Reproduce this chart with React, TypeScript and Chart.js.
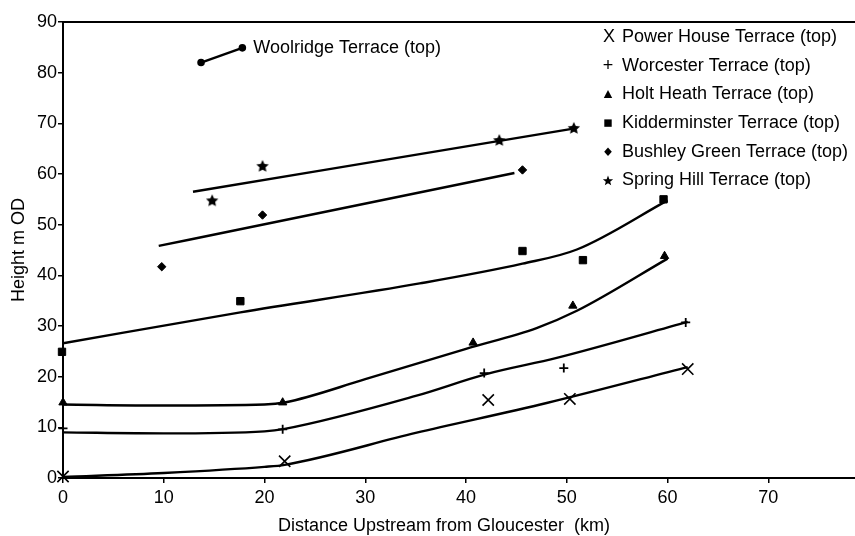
import React, { useEffect, useRef } from "react";
import { Chart, registerables } from "chart.js";

Chart.register(...registerables);

const FONT = '"Liberation Sans", Arial, Helvetica, sans-serif';

const legendLabels = [
  "Power House Terrace (top)",
  "Worcester Terrace (top)",
  "Holt Heath Terrace (top)",
  "Kidderminster Terrace (top)",
  "Bushley Green Terrace (top)",
  "Spring Hill Terrace (top)",
];
const woolridgeLabel = "Woolridge Terrace (top)";
const xTitle = "Distance Upstream from Gloucester  (km)";
const yTitle = "Height m OD";

// observed terrace tops
const powerHouseX = [0, 22, 42.2, 50.3, 62];
const powerHouseY = [0.3, 3.3, 15.4, 15.6, 21.5];
const worcesterX = [0, 21.8, 41.8, 49.7, 61.8];
const worcesterY = [9.8, 9.6, 20.7, 21.7, 30.7];
const holtHeathX = [0, 21.8, 40.7, 50.6, 59.7];
const holtHeathY = [14.9, 14.9, 26.7, 34, 43.8];
const kidderminsterX = [-0.1, 17.6, 45.6, 51.6, 59.6];
const kidderminsterY = [24.9, 34.9, 44.8, 43, 55];
const bushleyX = [9.8, 19.8, 45.6];
const bushleyY = [41.7, 51.9, 60.8];
const springHillX = [14.8, 19.8, 43.3, 50.7];
const springHillY = [54.8, 61.6, 66.7, 69.1];
const woolridgeX = [13.7, 17.8];
const woolridgeY = [82, 84.9];

// fitted profile lines
const powerHouseFitX = [0, 10, 20, 22, 35, 48, 62];
const powerHouseFitY = [0.2, 1, 2.2, 2.6, 8.9, 14.8, 21.9];
const worcesterFitX = [0, 10, 20, 22, 35, 42, 49, 62];
const worcesterFitY = [9, 8.8, 9.2, 9.7, 16.2, 20.5, 23.7, 30.8];
const holtHeathFitX = [0, 10, 20, 22, 30, 40, 47, 51, 60];
const holtHeathFitY = [14.5, 14.3, 14.5, 14.9, 19.5, 25.5, 29.6, 33, 43.3];
const kidderminsterFitX = [0, 17.6, 35.4, 45.6, 51, 60];
const kidderminsterFitY = [26.6, 32.7, 38.4, 42.3, 45.1, 54.8];
const bushleyFitX = [9.5, 44.8];
const bushleyFitY = [45.8, 60.2];
const springHillFitX = [12.9, 50.8];
const springHillFitY = [56.5, 69];

const xMin = 0;
const xMax = 78.6;
const yMin = 0;
const yMax = 90;
const tickStep = 10;

const pts = (xs: number[], ys: number[]) => xs.map((x, i) => ({ x, y: ys[i] }));

function starPath(ctx: CanvasRenderingContext2D, cx: number, cy: number, R: number, r: number) {
  ctx.beginPath();
  for (let i = 0; i < 10; i++) {
    const rad = i % 2 === 0 ? R : r;
    const a = -Math.PI / 2 + (i * Math.PI) / 5;
    const px = cx + Math.cos(a) * rad;
    const py = cy + Math.sin(a) * rad;
    if (i === 0) ctx.moveTo(px, py);
    else ctx.lineTo(px, py);
  }
  ctx.closePath();
}

function makeStar(size: number): HTMLCanvasElement {
  const c = document.createElement("canvas");
  c.width = size;
  c.height = size;
  const g = c.getContext("2d")!;
  g.fillStyle = "#000";
  starPath(g, size / 2, size / 2 + 0.5, size / 2 - 0.5, (size / 2) * 0.45);
  g.fill();
  return c;
}

export default function App() {
  const ref = useRef<HTMLCanvasElement | null>(null);

  useEffect(() => {
    if (!ref.current) return;
    Chart.defaults.font.family = FONT;
    Chart.defaults.color = "#000";
    const starImg = makeStar(14);

    const markerDs = (xs: number[], ys: number[], style: any, radius: number, bw: number) => ({
      data: pts(xs, ys),
      showLine: false,
      pointStyle: style,
      pointRadius: radius,
      pointBackgroundColor: "#000",
      pointBorderColor: "#000",
      pointBorderWidth: bw,
      clip: false as any,
    });
    const lineDs = (xs: number[], ys: number[]) => ({
      data: pts(xs, ys),
      showLine: true,
      borderColor: "#000",
      borderWidth: 2.4,
      pointRadius: 0,
      cubicInterpolationMode: "monotone" as const,
      fill: false,
    });

    const overlay = {
      id: "overlay",
      afterDraw(chart: any) {
        const ctx = chart.ctx as CanvasRenderingContext2D;
        const area = chart.chartArea;
        ctx.save();
        // top frame line
        ctx.strokeStyle = "#000";
        ctx.lineWidth = 2;
        ctx.beginPath();
        ctx.moveTo(area.left, area.top);
        ctx.lineTo(area.right, area.top);
        ctx.stroke();

        ctx.fillStyle = "#000";
        ctx.font = `18px ${FONT}`;
        ctx.textBaseline = "middle";
        ctx.textAlign = "left";
        // Woolridge label
        const xs = chart.scales.x;
        const ys = chart.scales.y;
        ctx.fillText(
          woolridgeLabel,
          xs.getPixelForValue(woolridgeX[1]) + 11,
          ys.getPixelForValue(woolridgeY[1]) + 0.5
        );

        // x axis title
        ctx.textAlign = "center";
        ctx.fillText(xTitle, 444, 526);
        ctx.textAlign = "left";

        // legend
        legendLabels.forEach((t, i) => {
          const y = 37 + i * 28.7;
          const mx = 608;
          ctx.fillText(t, 622, y);
          if (i === 0) {
            ctx.textAlign = "center";
            ctx.fillText("X", mx + 1, y);
            ctx.textAlign = "left";
          } else if (i === 1) {
            ctx.textAlign = "center";
            ctx.fillText("+", mx, y);
            ctx.textAlign = "left";
          } else if (i === 2) {
            ctx.beginPath();
            ctx.moveTo(mx, y - 4.5);
            ctx.lineTo(mx + 4.2, y + 3.5);
            ctx.lineTo(mx - 4.2, y + 3.5);
            ctx.closePath();
            ctx.fill();
          } else if (i === 3) {
            ctx.fillRect(mx - 3.7, y - 3.7, 7.4, 7.4);
          } else if (i === 4) {
            ctx.beginPath();
            ctx.moveTo(mx, y - 4.2);
            ctx.lineTo(mx + 3.8, y);
            ctx.lineTo(mx, y + 4.2);
            ctx.lineTo(mx - 3.8, y);
            ctx.closePath();
            ctx.fill();
          } else {
            starPath(ctx, mx, y + 0.5, 5.4, 2.3);
            ctx.fill();
          }
        });
        ctx.restore();
      },
    };

    const chart = new Chart(ref.current, {
      type: "scatter",
      data: {
        datasets: [
          lineDs(powerHouseFitX, powerHouseFitY),
          lineDs(worcesterFitX, worcesterFitY),
          lineDs(holtHeathFitX, holtHeathFitY),
          lineDs(kidderminsterFitX, kidderminsterFitY),
          lineDs(bushleyFitX, bushleyFitY),
          lineDs(springHillFitX, springHillFitY),
          {
            data: pts(woolridgeX, woolridgeY),
            showLine: true,
            borderColor: "#000",
            borderWidth: 2.4,
            pointRadius: 2.6,
            pointBackgroundColor: "#000",
            pointBorderColor: "#000",
          },
          markerDs(powerHouseX, powerHouseY, "crossRot", 8, 1.6),
          markerDs(worcesterX, worcesterY, "cross", 4.5, 1.8),
          markerDs(holtHeathX, holtHeathY, "triangle", 4.8, 1),
          markerDs(kidderminsterX, kidderminsterY, "rect", 5.2, 1),
          markerDs(bushleyX, bushleyY, "rectRot", 4.2, 1),
          markerDs(springHillX, springHillY, starImg, 7, 0),
        ] as any,
      },
      options: {
        responsive: false,
        animation: false,
        layout: { autoPadding: false, padding: { top: 22, left: 0, right: 0, bottom: 0 } },
        plugins: {
          legend: { display: false },
          tooltip: { enabled: false },
        },
        scales: {
          x: {
            type: "linear",
            min: xMin,
            max: xMax,
            ticks: {
              stepSize: tickStep,
              includeBounds: false,
              color: "#000",
              font: { size: 18 },
              padding: 4,
              maxRotation: 0,
            },
            grid: {
              display: true,
              drawOnChartArea: false,
              drawTicks: true,
              tickLength: 5,
              color: "#000",
              lineWidth: 1.5,
            },
            border: { display: true, color: "#000", width: 2 },
            title: { display: false },
            afterFit(s: any) {
              s.height = 58;
              s.paddingRight = 0;
              s.paddingLeft = 0;
            },
          },
          y: {
            type: "linear",
            min: yMin,
            max: yMax,
            ticks: {
              stepSize: tickStep,
              color: "#000",
              font: { size: 18 },
              padding: 1,
            },
            grid: {
              display: true,
              drawOnChartArea: false,
              drawTicks: true,
              tickLength: 5,
              color: "#000",
              lineWidth: 1.5,
            },
            border: { display: true, color: "#000", width: 2 },
            title: {
              display: true,
              text: yTitle,
              color: "#000",
              font: { size: 18 },
              padding: { top: 8, bottom: 0 },
            },
            afterFit(s: any) {
              s.width = 63;
            },
          },
        },
      } as any,
      plugins: [overlay],
    });
    return () => chart.destroy();
  }, []);

  return (
    <div style={{ position: "absolute", left: 0, top: 0, width: 855, height: 536, background: "#fff" }}>
      <canvas ref={ref} width={855} height={536} style={{ display: "block" }} />
    </div>
  );
}
